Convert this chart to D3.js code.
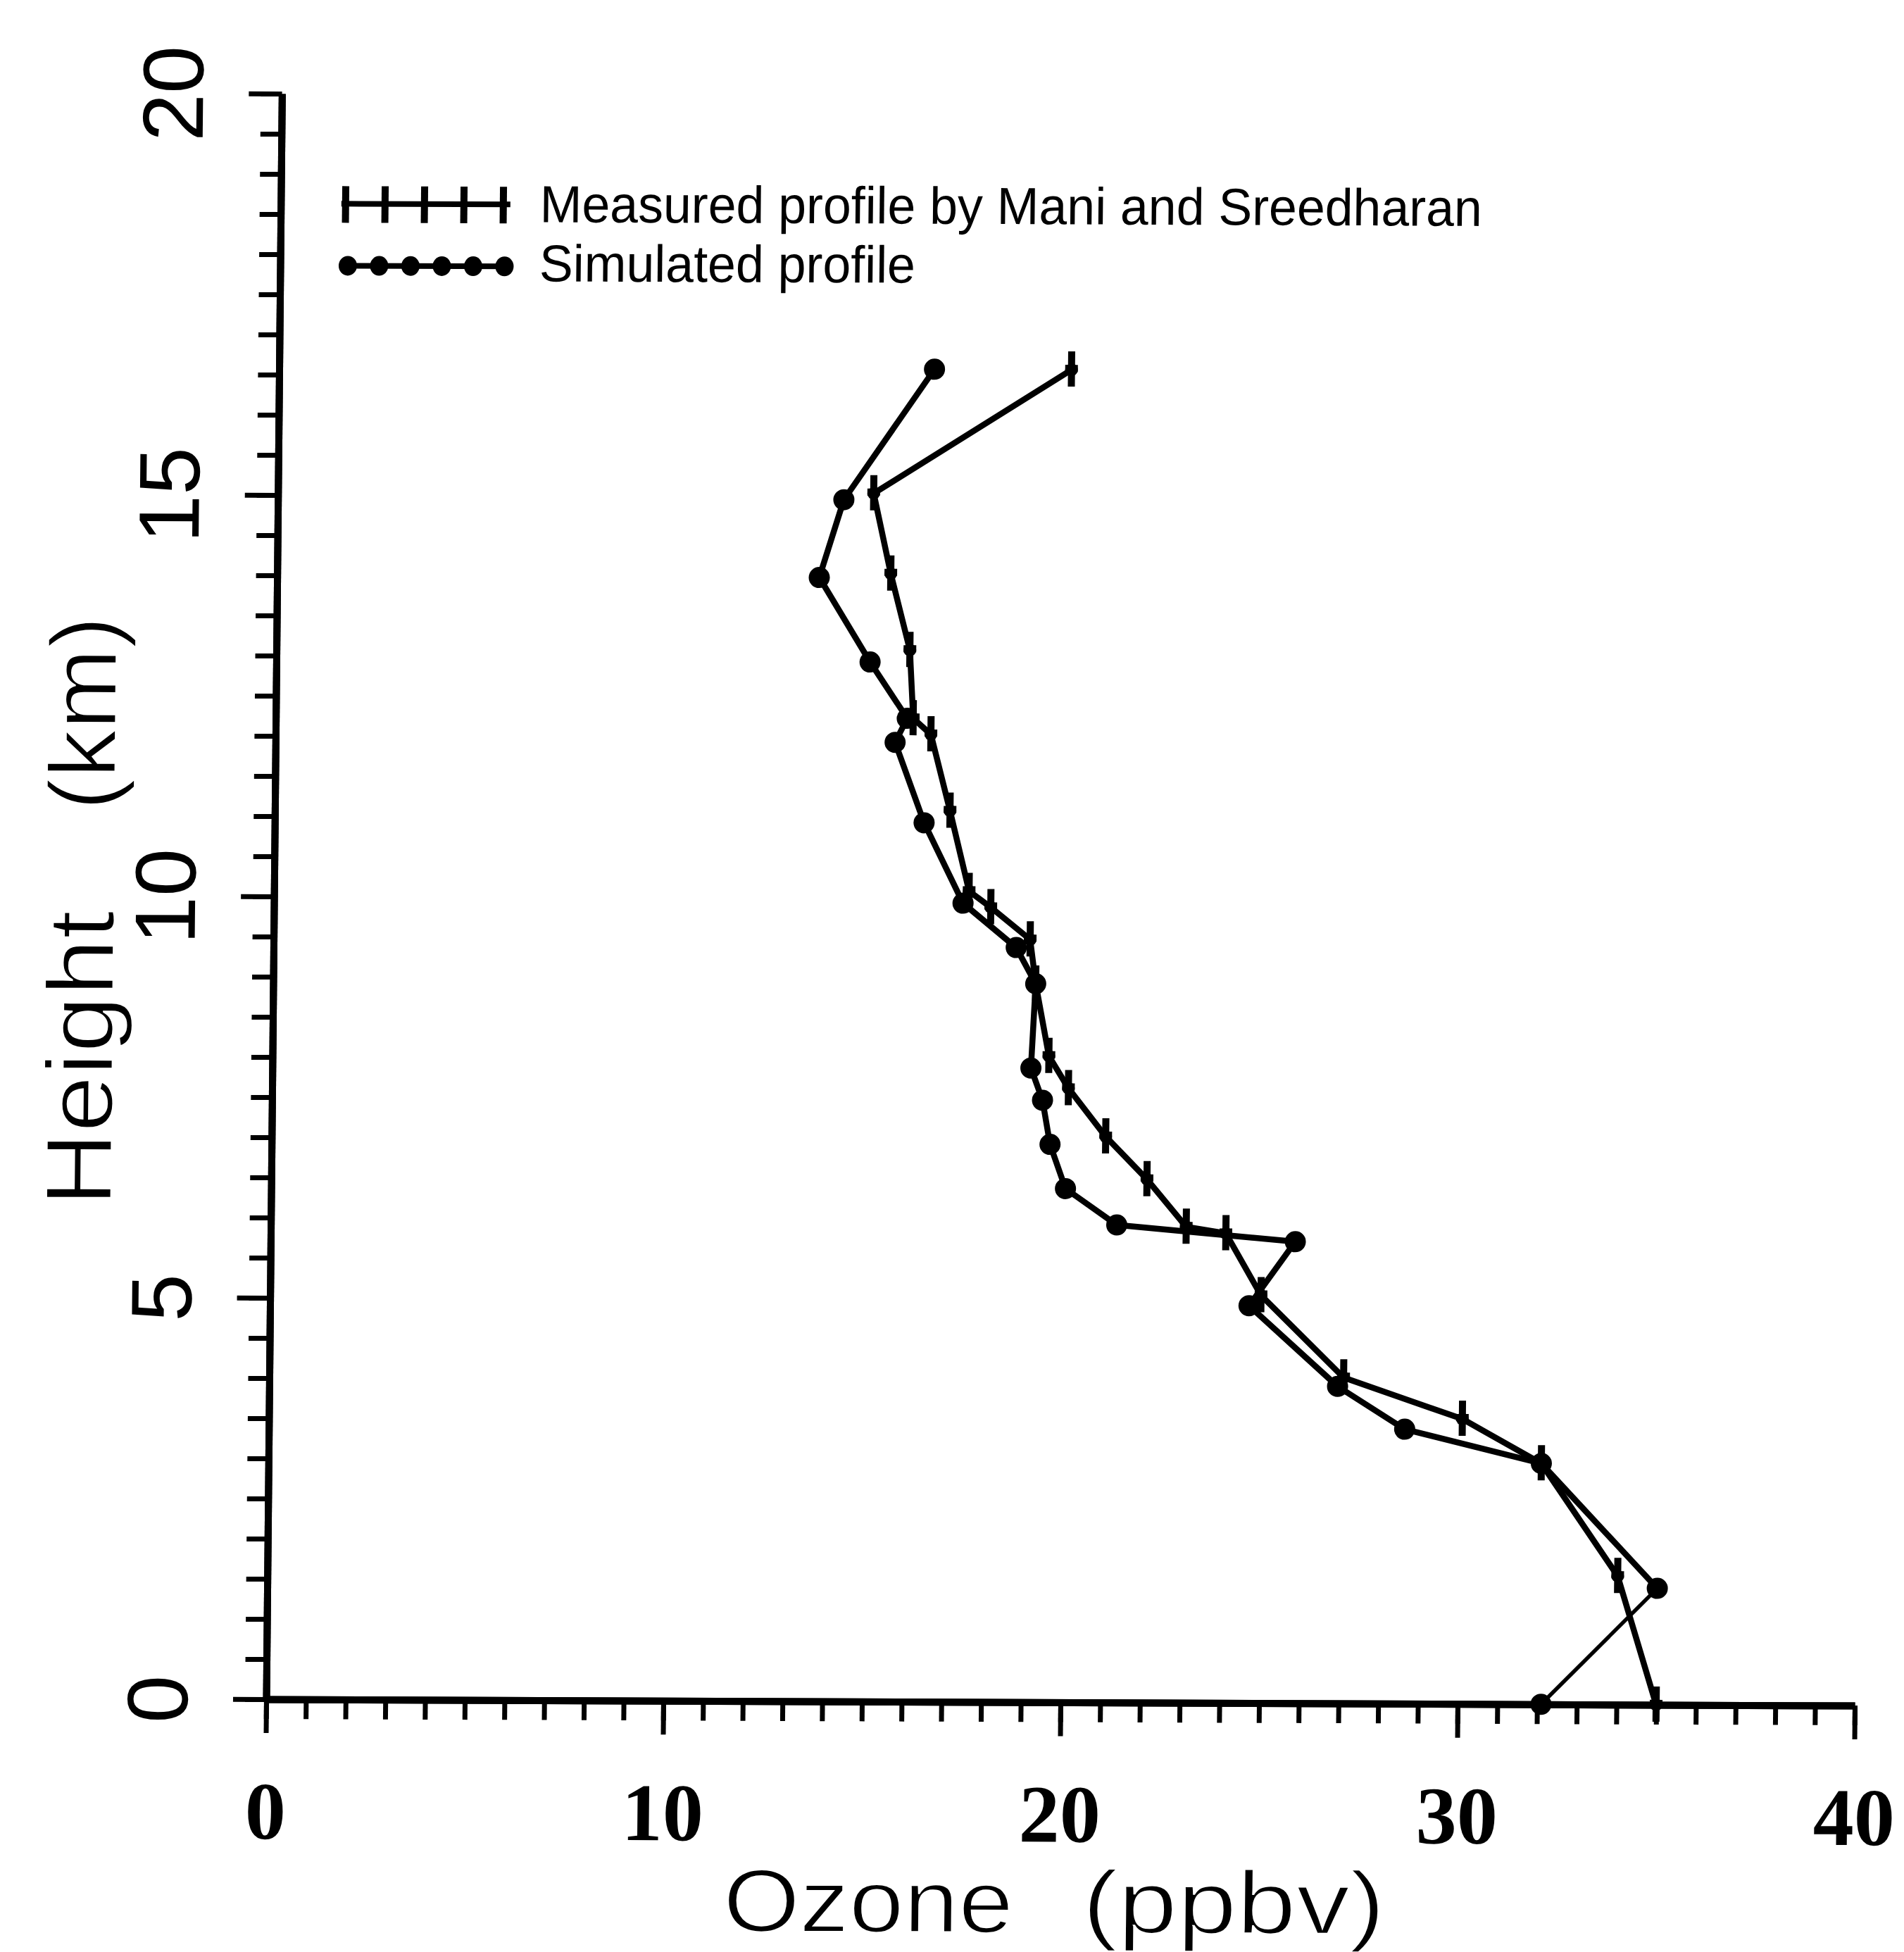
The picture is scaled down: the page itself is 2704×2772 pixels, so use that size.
<!DOCTYPE html>
<html>
<head>
<meta charset="utf-8">
<script src="https://cdn.jsdelivr.net/npm/d3@7"></script>
<style>
  html, body { margin: 0; padding: 0; background: #fff; }
  svg { display: block; }
</style>
</head>
<body>
<div id="chart"></div>
<script>
// Measured profile by Mani and Sreedharan (ozone in ppbv, height in km)
const measuredOzone = [19.95, 15.0, 15.45, 15.95, 16.05, 16.5, 17.0, 17.5, 18.05, 19.05, 19.2, 19.55, 20.05, 21.0, 22.05, 23.05, 24.05, 24.95, 27.05, 30.05, 32.05, 34.0, 35.0];
const measuredHeight = [16.6, 15.05, 14.05, 13.1, 12.25, 12.05, 11.1, 10.1, 9.9, 9.5, 8.95, 8.05, 7.65, 7.05, 6.52, 5.93, 5.85, 5.08, 4.06, 3.55, 3.0, 1.6, 0];

// Simulated profile
const simulatedOzone = [16.5, 14.25, 13.65, 14.95, 15.9, 15.6, 16.35, 17.35, 18.7, 19.2, 19.1, 19.4, 19.6, 20.0, 21.3, 25.8, 24.65, 26.9, 28.6, 32.05, 35.0, 32.1];
const simulatedHeight = [16.6, 14.97, 14.0, 12.95, 12.25, 11.95, 10.95, 9.95, 9.4, 8.95, 7.9, 7.5, 6.95, 6.4, 5.95, 5.75, 4.95, 3.95, 3.42, 3.0, 1.45, 0];

// Axis ticks
const xTickLabels = [0, 10, 20, 30, 40];
const yTickLabels = [0, 5, 10, 15, 20];
const xMinorStep = 1;
const yMinorStep = 0.5;

const legendLabels = ["Measured profile by Mani and Sreedharan", "Simulated profile"];

function draw() {
  const dimensions = {
    width: 2704,
    height: 2772,
    x0: 378,
    x1: 2634,
    y0: 2413,
    y1: 133,
  };

  const measured = measuredOzone.map((d, i) => ({ x: d, y: measuredHeight[i] }));
  const simulated = simulatedOzone.map((d, i) => ({ x: d, y: simulatedHeight[i] }));

  const svg = d3
    .select("#chart")
    .append("svg")
    .attr("width", dimensions.width)
    .attr("height", dimensions.height)
    .attr("viewBox", `0 0 ${dimensions.width} ${dimensions.height}`)
    .style("background", "#fff");

  // the scanned figure is slightly sheared, keep that
  const skewX = -0.0098;
  const skewY = 0.004;
  const graph = svg
    .append("g")
    .attr(
      "transform",
      `matrix(1, ${skewY}, ${skewX}, 1, ${-skewX * dimensions.y0}, ${-skewY * dimensions.x0})`
    );

  const xScale = d3
    .scaleLinear()
    .domain([0, 40])
    .range([dimensions.x0, dimensions.x1]);

  const yScale = d3
    .scaleLinear()
    .domain([0, 20])
    .range([dimensions.y0, dimensions.y1]);

  // x axis: minor then major ticks
  const xMinor = graph
    .append("g")
    .attr("transform", `translate(0, ${dimensions.y0})`)
    .call(
      d3.axisBottom(xScale)
        .tickValues(d3.range(0, 40 + xMinorStep / 2, xMinorStep))
        .tickSize(28)
        .tickSizeOuter(0)
        .tickFormat("")
    );

  const xMajor = graph
    .append("g")
    .attr("transform", `translate(0, ${dimensions.y0})`)
    .call(
      d3.axisBottom(xScale)
        .tickValues(xTickLabels)
        .tickSize(48)
        .tickSizeOuter(0)
        .tickFormat(d3.format("d"))
    );

  xMajor
    .selectAll("text")
    .attr("y", 198)
    .attr("dy", null)
    .style("font-family", "'Liberation Serif', serif")
    .style("font-weight", "bold")
    .style("font-size", "116px")
    .attr("fill", "#000");

  // y axis
  const yMinor = graph
    .append("g")
    .attr("transform", `translate(${dimensions.x0}, 0)`)
    .call(
      d3.axisLeft(yScale)
        .tickValues(d3.range(0, 20 + yMinorStep / 2, yMinorStep))
        .tickSize(30)
        .tickSizeOuter(0)
        .tickFormat("")
    );

  const yMajor = graph
    .append("g")
    .attr("transform", `translate(${dimensions.x0}, 0)`)
    .call(
      d3.axisLeft(yScale)
        .tickValues(yTickLabels)
        .tickSize(47)
        .tickSizeOuter(0)
        .tickFormat(d3.format("d"))
    );

  yMajor
    .selectAll("text")
    .attr("x", null)
    .attr("dy", null)
    .attr("transform", "translate(-112, 0) rotate(-90)")
    .attr("text-anchor", "middle")
    .style("font-family", "'Liberation Sans', Arial, sans-serif")
    .style("font-size", "122px")
    .attr("fill", "#000");

  [xMinor, xMajor, yMinor, yMajor].forEach((axis) => {
    axis.select(".domain").attr("stroke", "#000").attr("stroke-width", 10);
    axis.selectAll(".tick line").attr("stroke", "#000").attr("stroke-width", 7);
  });

  // axis titles, each word placed on its own (wide gaps in the original)
  const titleStyle = (sel, size) =>
    sel
      .style("font-family", "'Liberation Sans', Arial, sans-serif")
      .style("font-size", `${size}px`)
      .attr("fill", "#000")
      .attr("stroke", "#fff")
      .attr("stroke-width", 2.5);

  graph
    .append("text")
    .attr("transform", "translate(151, 1714) rotate(-90)")
    .attr("textLength", 420)
    .attr("lengthAdjust", "spacingAndGlyphs")
    .call(titleStyle, 134)
    .text("Height");

  graph
    .append("text")
    .attr("transform", "translate(151, 1152) rotate(-90)")
    .attr("textLength", 276)
    .attr("lengthAdjust", "spacingAndGlyphs")
    .call(titleStyle, 134)
    .text("(km)");

  graph
    .append("text")
    .attr("x", 1030)
    .attr("y", 2740)
    .attr("textLength", 412)
    .attr("lengthAdjust", "spacingAndGlyphs")
    .call(titleStyle, 126)
    .text("Ozone");

  graph
    .append("text")
    .attr("x", 1540)
    .attr("y", 2740)
    .attr("textLength", 430)
    .attr("lengthAdjust", "spacingAndGlyphs")
    .call(titleStyle, 126)
    .text("(ppbv)");

  // lines
  const lineGenerator = d3
    .line()
    .x((d) => xScale(d.x))
    .y((d) => yScale(d.y));

  graph
    .append("path")
    .datum(measured)
    .attr("d", lineGenerator)
    .attr("fill", "none")
    .attr("stroke", "#000")
    .attr("stroke-width", 8.5)
    .attr("stroke-linejoin", "round");

  graph
    .append("path")
    .datum(simulated.slice(0, -1))
    .attr("d", lineGenerator)
    .attr("fill", "none")
    .attr("stroke", "#000")
    .attr("stroke-width", 8.5)
    .attr("stroke-linejoin", "round");

  // last simulated segment is drawn thinner
  graph
    .append("path")
    .datum(simulated.slice(-2))
    .attr("d", lineGenerator)
    .attr("fill", "none")
    .attr("stroke", "#000")
    .attr("stroke-width", 5.5);

  // measured markers: bold vertical crosses
  const tickMarks = graph
    .append("g")
    .selectAll("g")
    .data(measured)
    .enter()
    .append("g")
    .attr("transform", (d) => `translate(${xScale(d.x)}, ${yScale(d.y)})`);

  tickMarks
    .append("path")
    .attr("d", "M0,-26V24M-9,-2H9")
    .attr("stroke", "#000")
    .attr("stroke-width", 10);

  tickMarks
    .append("circle")
    .attr("r", 9)
    .attr("fill", "#000");

  // simulated markers: dots
  graph
    .append("g")
    .selectAll("circle")
    .data(simulated)
    .enter()
    .append("circle")
    .attr("cx", (d) => xScale(d.x))
    .attr("cy", (d) => yScale(d.y))
    .attr("r", 15)
    .attr("fill", "#000");

  // legend
  const legend = graph.append("g");
  const legendTicks = d3.range(5);
  const legendDots = d3.range(6);
  const legendX = 470;

  legend
    .append("line")
    .attr("x1", legendX - 6)
    .attr("x2", legendX + 4 * 56 + 10)
    .attr("y1", 289)
    .attr("y2", 289)
    .attr("stroke", "#000")
    .attr("stroke-width", 8);

  legend
    .selectAll(".legend-tick")
    .data(legendTicks)
    .enter()
    .append("path")
    .attr("class", "legend-tick")
    .attr("d", (d) => `M${legendX + d * 56},264V316`)
    .attr("stroke", "#000")
    .attr("stroke-width", 10);

  legend
    .append("line")
    .attr("x1", legendX - 8)
    .attr("x2", legendX + 236)
    .attr("y1", 377)
    .attr("y2", 377)
    .attr("stroke", "#000")
    .attr("stroke-width", 8);

  legend
    .selectAll(".legend-dot")
    .data(legendDots)
    .enter()
    .append("ellipse")
    .attr("class", "legend-dot")
    .attr("cx", (d) => legendX + 4 + d * 44.5)
    .attr("cy", 377)
    .attr("rx", 13)
    .attr("ry", 14)
    .attr("fill", "#000");

  legend
    .selectAll(".legend-text")
    .data(legendLabels)
    .enter()
    .append("text")
    .attr("class", "legend-text")
    .attr("x", 746)
    .attr("y", (d, i) => (i === 0 ? 314 : 398))
    .attr("textLength", (d, i) => (i === 0 ? 1338 : 534))
    .attr("lengthAdjust", "spacingAndGlyphs")
    .style("font-family", "'Liberation Sans', Arial, sans-serif")
    .style("font-size", "74px")
    .text((d) => d);
}

draw();
</script>
</body>
</html>
